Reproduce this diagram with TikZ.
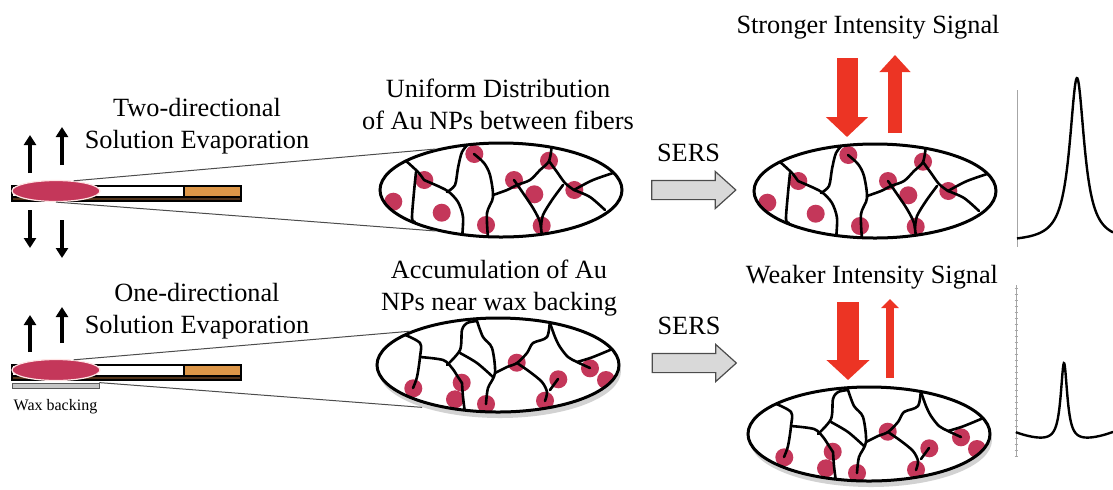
\documentclass[tikz,border=0pt]{standalone}
\usepackage{fontspec}
\setmainfont{Liberation Serif}
\usetikzlibrary{positioning, arrows.meta, shapes.geometric, shapes.arrows}

\definecolor{npred}{RGB}{196,55,90}
\definecolor{laser}{RGB}{236,52,36}
\definecolor{tipband}{RGB}{220,150,72}
\definecolor{backing}{RGB}{80,50,25}

\begin{document}
\begin{tikzpicture}[x=0.5pt, y=-0.5pt,
    % text
    label/.style={font=\fontsize{13.15}{16}\selectfont, align=center, inner sep=0pt},
    small/.style={font=\fontsize{8}{10}\selectfont, inner sep=0pt},
    % paper strip and droplet
    strip/.style={draw=black, line width=0.7pt},
    drop/.style={ellipse, fill=npred, draw=pink!40, line width=0.6pt, minimum width=44pt, minimum height=10.5pt, inner sep=0pt},
    wax/.style={rectangle, fill=gray!45, draw=gray!70!black, line width=0.4pt, minimum width=43.5pt, minimum height=2.5pt, inner sep=0pt},
    % magnified fibre views
    view/.style={ellipse, draw=black, line width=1.5pt, fill=white, minimum width=121pt, minimum height=47pt, inner sep=0pt},
    shadow/.style={ellipse, fill=gray!35, minimum width=121pt, minimum height=47pt, inner sep=0pt},
    fibre/.style={draw=black, line width=1.3pt, line cap=round, line join=round},
    np/.style={fill=npred},
    zoomline/.style={draw=gray!60!black, line width=0.5pt},
    % arrows
    evap/.style={draw=black, line width=2pt, -{Triangle[width=6pt,length=5pt]}},
    sersarrow/.style={single arrow, draw=gray!60!black, fill=gray!30, line width=0.6pt, inner xsep=0pt, inner ysep=4.5pt, minimum height=42pt, single arrow head extend=4.5pt, single arrow tip angle=84},
    beam/.style={draw=laser},
    axisline/.style={draw=gray!70, line width=0.5pt},
    spectrum/.style={draw=black, line width=1.2pt},
    % fibre network, even solvent loss
    netA/.pic={
        \foreach \p in {(-107.7,11.7),(-76.7,-10),(-59.3,22.7),(-26.7,-36),(13,-10),(33.3,4.3),(48,-29.3),(73.3,0),(-15,35),(40.7,35.7)}
            \fill[np] \p circle[radius=9];
        \draw[fibre] plot[smooth] coordinates {(-96,-30) (-83,-18) (-77,-10)};
        \draw[fibre] plot[smooth] coordinates {(-85,-18) (-87,2) (-89,28) (-86,32)};
        \draw[fibre] plot[smooth] coordinates {(-77,-10) (-61,-3) (-52,2) (-43,12) (-38,27) (-39,48)};
        \draw[fibre] plot[smooth] coordinates {(-54,2) (-46,-5) (-43,-22) (-39,-38) (-31,-48)};
        \draw[fibre] plot[smooth] coordinates {(-27,-36) (-17,-27) (-11,-15) (-8,7) (-14,23) (-13,48)};
        \draw[fibre] plot[smooth] coordinates {(-8,5) (6,0) (16,-5) (29,-10) (39,-20) (48,-29) (51,-46)};
        \draw[fibre] plot[smooth] coordinates {(13,-10) (22,3) (32,18) (39,32) (41,48)};
        \draw[fibre] plot[smooth] coordinates {(48,-29) (56,-18) (64,-7) (73,0)};
        \draw[fibre] plot[smooth] coordinates {(73,0) (92,-10) (118,-19)};
        \draw[fibre] plot[smooth] coordinates {(73,0) (89,7) (104,20)};
        \draw[fibre] plot[smooth] coordinates {(62,-5) (51,10) (42,25) (40,37)};
    },
    % fibre network, particles pushed to the backing
    netB/.pic={
        \foreach \p in {(-84.7,23.3),(-36.3,17.7),(-43,34.3),(-12,39),(18.7,-2.3),(60.3,14.3),(92,3.3),(108,15),(47,35.7)}
            \fill[np] \p circle[radius=9];
        \draw[fibre] plot[smooth] coordinates {(-95,-31) (-78,-22) (-78,-8) (-81,12) (-85,23)};
        \draw[fibre] plot[smooth] coordinates {(-78,-8) (-55,-5) (-46,3) (-40,12) (-36,18)};
        \draw[fibre] plot[smooth] coordinates {(-51,0) (-38,-15) (-36,-35) (-31,-42) (-21,-44)};
        \draw[fibre] plot[smooth] coordinates {(-21,-44) (-15,-28) (-6,-17) (-3,8) (-10,23) (-12,39)};
        \draw[fibre] plot[smooth] coordinates {(-38,-12) (-21,-2) (-5,12)};
        \draw[fibre] plot[smooth] coordinates {(-36,18) (-35,32) (-33,48)};
        \draw[fibre] plot[smooth] coordinates {(-3,8) (9,2) (19,-2) (29,-12) (35,-22) (49,-28) (52,-46)};
        \draw[fibre] plot[smooth] coordinates {(19,-2) (32,7) (44,17) (49,27) (47,36)};
        \draw[fibre] plot[smooth] coordinates {(52,-42) (57,-28) (62,-18) (70,-8) (79,-3) (92,3)};
        \draw[fibre] plot[smooth] coordinates {(79,-3) (95,-8) (119,-18)};
        \draw[fibre] plot[smooth] coordinates {(60,14) (52,25)};
    }
]
\useasboundingbox (0,0) rectangle (1113,489);

% ---- upper row: two-directional evaporation ----
\draw[strip, fill=white] (12,186) rectangle (184,197);
\draw[strip, fill=tipband] (184,186) rectangle (241,197);
\draw[strip, fill=backing] (12,197) rectangle (241,201);
\node[drop] (dropA) at (56,191) {};

\draw[evap] (30,173) -- (30,135);
\draw[evap] (62,165) -- (62,127);
\draw[evap] (30,210) -- (30,248);
\draw[evap] (62,220) -- (62,258);

\node[label] (evapA) at (197,126) {Two-directional\\Solution Evaporation};

\node[view, path picture={\pic at (path picture bounding box.center) {netA};}] (viewA) at (501,190) {};
\node[label] (distA) at (498,104) {Uniform Distribution\\of Au NPs between fibers};
\draw[zoomline] (dropA.30) -- (viewA.148);
\draw[zoomline] (dropA.south) -- (viewA.212);

\node[sersarrow] (serA) at (688.5,190) {};
\node[label, above=9pt of serA] (serlabA) {SERS};

\node[view, path picture={\pic at (path picture bounding box.center) {netA};}] (viewB) at (875,191) {};
\node[label, anchor=base] (sigA) at (868,33) {Stronger Intensity Signal};
\draw[beam, line width=10.5pt, -{Triangle[width=20.5pt,length=10pt]}] (847,58) -- (847,137);
\draw[beam, line width=7pt, -{Triangle[width=15pt,length=8.5pt]}] (895,133) -- (895,55);

\draw[axisline] (1017,90) -- (1017,247);
\draw[spectrum] plot[domain=1017:1113, samples=160, smooth] (\x, {242-164*81/((\x-1077)^2+81)});

% ---- lower row: one-directional evaporation over wax ----
\begin{scope}[shift={(0,179)}]
    \draw[strip, fill=white] (12,186) rectangle (184,197);
    \draw[strip, fill=tipband] (184,186) rectangle (241,197);
    \draw[strip, fill=backing] (12,197) rectangle (241,201);
    \node[drop] (dropB) at (56,191) {};
\end{scope}
\node[wax] (waxB) at (55.5,385.5) {};
\node[small, below=5.5pt of waxB] (waxlab) {Wax backing};

\draw[evap] (30,352) -- (30,315);
\draw[evap] (62,343) -- (62,307);

\node[label] (evapB) at (197,311) {One-directional\\Solution Evaporation};

\node[shadow] (shadC) at (500,371) {};
\node[view, path picture={\pic at (path picture bounding box.center) {netB};}] (viewC) at (498,365) {};
\node[label] (distB) at (499,288) {Accumulation of Au\\NPs near wax backing};
\draw[zoomline] (dropB.30) -- (viewC.159);
\draw[zoomline] (waxB.north east) -- (shadC.205);

\node[sersarrow] (serB) at (689,363) {};
\node[label, above=9pt of serB] (serlabB) {SERS};

\node[shadow] (shadD) at (871,440) {};
\node[view, path picture={\pic at (path picture bounding box.center) {netB};}] (viewD) at (869,434) {};
\node[label, anchor=base] (sigB) at (872,283) {Weaker Intensity Signal};
\draw[beam, line width=11pt, -{Triangle[width=21pt,length=10pt]}] (848,302) -- (848,380);
\draw[beam, line width=4pt, -{Triangle[width=8.5pt,length=4.5pt]}] (890,378) -- (890,299);

\draw[axisline] (1016,285) -- (1016,457);
\foreach \t in {288,294,...,456}
    \draw[axisline] (1014.5,\t) -- (1017.5,\t);
\draw[spectrum] plot[domain=1016:1113, samples=220] (\x, {442-79*16/((\x-1064)^2+16)-0.004*(\x-1064)^2});

\end{tikzpicture}
\end{document}
